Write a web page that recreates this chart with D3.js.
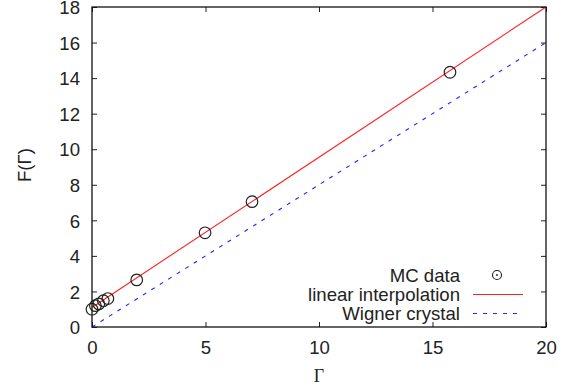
<!DOCTYPE html>
<html>
<head>
<meta charset="utf-8">
<script src="https://cdn.jsdelivr.net/npm/d3@7"></script>
<style>
  body { margin: 0; background: #fff; }
  svg { display: block; }
  text { font-family: "Liberation Sans", Arial, sans-serif; fill: #222; }
</style>
</head>
<body>
<div id="chart"></div>
<script>
// MC data points
var mcGamma = [0, 0.15, 0.3, 0.5, 0.7, 1.97, 4.98, 7.05, 15.77];
var mcF = [1.0, 1.2, 1.3, 1.48, 1.6, 2.65, 5.3, 7.05, 14.33];
// linear interpolation
var linGamma = [0, 20];
var linF = [1.1, 18];
// Wigner crystal
var wcGamma = [0, 20];
var wcF = [0, 16];
var xTicks = [0, 5, 10, 15, 20];
var yTicks = [0, 2, 4, 6, 8, 10, 12, 14, 16, 18];
var legendLabels = ['MC data', 'linear interpolation', 'Wigner crystal'];

var width = 572, height = 390;
var margin = {left: 92, right: 26, top: 7, bottom: 63};
var w = width - margin.left - margin.right;
var h = height - margin.top - margin.bottom;
var fontSize = '18.6px';

var svg = d3.select('#chart').append('svg')
    .attr('width', width)
    .attr('height', height);
var g = svg.append('g')
    .attr('transform', 'translate(' + margin.left + ',' + margin.top + ')');

var x = d3.scaleLinear().domain([0, 20]).range([0, w]);
var y = d3.scaleLinear().domain([0, 18]).range([h, 0]);

// axes with inward ticks (mirrored on top/right)
var fmt = d3.format('d');
var axB = g.append('g').attr('transform', 'translate(0,' + h + ')')
    .call(d3.axisBottom(x).tickValues(xTicks).tickSize(-5).tickPadding(14).tickFormat(fmt));
var axL = g.append('g')
    .call(d3.axisLeft(y).tickValues(yTicks).tickSize(-5).tickPadding(12).tickFormat(fmt));
var axT = g.append('g')
    .call(d3.axisTop(x).tickValues(xTicks).tickSize(-5).tickFormat(''));
var axR = g.append('g').attr('transform', 'translate(' + w + ',0)')
    .call(d3.axisRight(y).tickValues(yTicks).tickSize(-5).tickFormat(''));
[axB, axL, axT, axR].forEach(function(a) {
    a.select('.domain').remove();
    a.selectAll('line').attr('stroke', '#222').attr('stroke-width', 1);
    a.selectAll('text').style('font-size', fontSize).attr('fill', '#222')
        .style('font-family', '"Liberation Sans", Arial, sans-serif');
});
axL.selectAll('text').attr('dy', '0.36em');

var line = d3.line()
    .x(function(d) { return x(d[0]); })
    .y(function(d) { return y(d[1]); });

g.append('path')
    .datum(wcGamma.map(function(v, i) { return [v, wcF[i]]; }))
    .attr('d', line)
    .attr('fill', 'none')
    .attr('stroke', '#2222ff')
    .attr('stroke-width', 1.1)
    .attr('stroke-dasharray', '4,6');

g.append('path')
    .datum(linGamma.map(function(v, i) { return [v, linF[i]]; }))
    .attr('d', line)
    .attr('fill', 'none')
    .attr('stroke', '#ff2020')
    .attr('stroke-width', 1.1);

g.selectAll('circle.mc')
    .data(mcGamma.map(function(v, i) { return [v, mcF[i]]; }))
    .enter().append('circle')
    .attr('class', 'mc')
    .attr('cx', function(d) { return x(d[0]); })
    .attr('cy', function(d) { return y(d[1]); })
    .attr('r', 5.8)
    .attr('fill', 'none')
    .attr('stroke', '#222')
    .attr('stroke-width', 1.2);

// frame
g.append('rect')
    .attr('width', w).attr('height', h)
    .attr('fill', 'none')
    .attr('stroke', '#111')
    .attr('stroke-width', 1.3);

// axis labels
svg.append('text')
    .attr('x', 319).attr('y', 382)
    .attr('text-anchor', 'middle')
    .style('font-family', '"Liberation Serif", "Times New Roman", serif')
    .style('font-size', '18px')
    .text('Γ');
svg.append('text')
    .attr('transform', 'translate(31,165) rotate(-90)')
    .attr('text-anchor', 'middle')
    .style('font-size', fontSize)
    .text('F(Γ)');

// legend
var legY = [275, 294.5, 313.5];
var leg = svg.append('g');
legendLabels.forEach(function(lbl, i) {
    leg.append('text')
        .attr('x', 460).attr('y', legY[i])
        .attr('dy', '0.35em')
        .attr('text-anchor', 'end')
        .style('font-size', fontSize)
        .text(lbl);
});
leg.append('circle')
    .attr('cx', 497).attr('cy', legY[0]).attr('r', 4.5)
    .attr('fill', 'none').attr('stroke', '#222').attr('stroke-width', 1.1);
leg.append('circle')
    .attr('cx', 497).attr('cy', legY[0]).attr('r', 0.9)
    .attr('fill', '#222');
leg.append('line')
    .attr('x1', 473).attr('x2', 523).attr('y1', legY[1]).attr('y2', legY[1])
    .attr('stroke', '#ff2020').attr('stroke-width', 1.1);
leg.append('line')
    .attr('x1', 473).attr('x2', 523).attr('y1', legY[2]).attr('y2', legY[2])
    .attr('stroke', '#2222ff').attr('stroke-width', 1.1)
    .attr('stroke-dasharray', '4,6');
</script>
</body>
</html>
